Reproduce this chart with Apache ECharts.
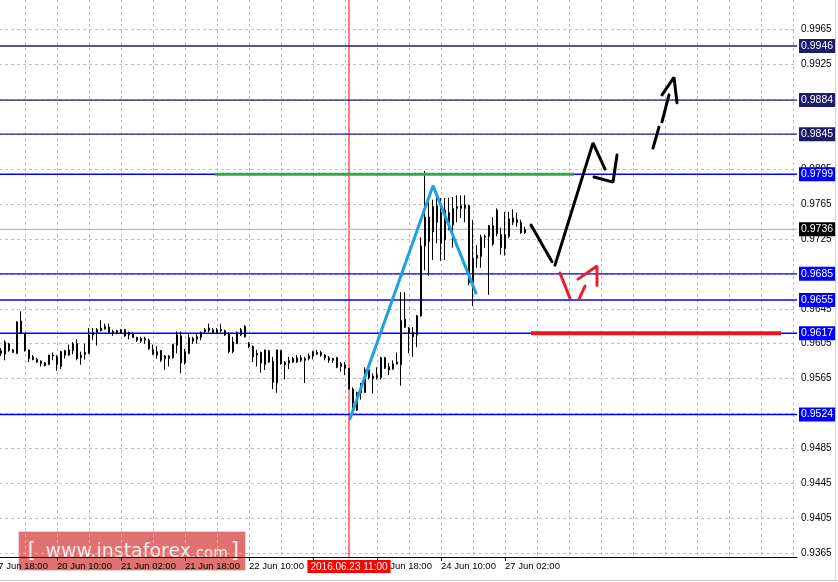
<!DOCTYPE html>
<html>
<head>
<meta charset="utf-8">
<title>H1 chart</title>
<script src="https://cdn.jsdelivr.net/npm/echarts@6/dist/echarts.min.js"></script>
<style>
html, body { margin: 0; padding: 0; background: #fff; }
#chart { width: 838px; height: 582px; }
</style>
</head>
<body>
<div id="chart"></div>
<script>
// hourly slots start at 17 Jun 2016 18:00, first candle sits in slot 2
var slotCount = 202;
var firstCandle = 2;
var lastLabelSlot = 128;

var opens = [
  0.9597, 0.9593, 0.9605, 0.9598, 0.9594, 0.9631, 0.9617, 0.9598, 0.9590, 0.9587,
  0.9585, 0.9583, 0.9581, 0.9591, 0.9590, 0.9579, 0.9597, 0.9592, 0.9597, 0.9605,
  0.9589, 0.9595, 0.9594, 0.9618, 0.9618, 0.9623, 0.9622, 0.9624, 0.9619, 0.9618,
  0.9618, 0.9621, 0.9618, 0.9616, 0.9612, 0.9608, 0.9611, 0.9609, 0.9598, 0.9592,
  0.9597, 0.9591, 0.9588, 0.9589, 0.9603, 0.9614, 0.9583, 0.9594, 0.9611, 0.9610,
  0.9612, 0.9621, 0.9620, 0.9621, 0.9618, 0.9621, 0.9620, 0.9616, 0.9596, 0.9605,
  0.9615, 0.9625, 0.9605, 0.9602, 0.9594, 0.9595, 0.9581, 0.9584, 0.9585, 0.9560,
  0.9597, 0.9584, 0.9583, 0.9588, 0.9584, 0.9589, 0.9586, 0.9588, 0.9591, 0.9595,
  0.9595, 0.9592, 0.9589, 0.9588, 0.9589, 0.9579, 0.9581, 0.9577, 0.9553, 0.9529,
  0.9549, 0.9549, 0.9575, 0.9565, 0.9566, 0.9566, 0.9589, 0.9579, 0.9576, 0.9582,
  0.9581, 0.9633, 0.9623, 0.9618, 0.9615, 0.9637, 0.9717, 0.9750, 0.9733, 0.9744,
  0.9755, 0.9724, 0.9755, 0.9741, 0.9760, 0.9763, 0.9760, 0.9763, 0.9675, 0.9706,
  0.9705, 0.9727, 0.9728, 0.9740, 0.9758, 0.9730, 0.9714, 0.9728, 0.9744, 0.9747,
  0.9744, 0.9732
];
var closes = [
  0.9594, 0.9607, 0.9597, 0.9595, 0.9630, 0.9617, 0.9597, 0.9588, 0.9587, 0.9584,
  0.9582, 0.9580, 0.9592, 0.9592, 0.9581, 0.9596, 0.9592, 0.9598, 0.9605, 0.9588,
  0.9592, 0.9593, 0.9615, 0.9615, 0.9621, 0.9620, 0.9625, 0.9618, 0.9617, 0.9620,
  0.9621, 0.9614, 0.9615, 0.9612, 0.9609, 0.9611, 0.9609, 0.9599, 0.9593, 0.9596,
  0.9586, 0.9588, 0.9591, 0.9604, 0.9615, 0.9583, 0.9596, 0.9612, 0.9608, 0.9613,
  0.9618, 0.9619, 0.9623, 0.9618, 0.9621, 0.9620, 0.9615, 0.9596, 0.9607, 0.9618,
  0.9621, 0.9613, 0.9602, 0.9590, 0.9592, 0.9583, 0.9598, 0.9597, 0.9561, 0.9598,
  0.9582, 0.9581, 0.9586, 0.9584, 0.9589, 0.9586, 0.9588, 0.9591, 0.9596, 0.9593,
  0.9592, 0.9589, 0.9586, 0.9586, 0.9578, 0.9582, 0.9577, 0.9553, 0.9537, 0.9549,
  0.9552, 0.9575, 0.9566, 0.9568, 0.9569, 0.9589, 0.9577, 0.9575, 0.9582, 0.9584,
  0.9632, 0.9624, 0.9617, 0.9613, 0.9637, 0.9717, 0.9750, 0.9722, 0.9762, 0.9763,
  0.9720, 0.9758, 0.9744, 0.9760, 0.9762, 0.9760, 0.9764, 0.9675, 0.9703, 0.9703,
  0.9727, 0.9728, 0.9740, 0.9719, 0.9731, 0.9715, 0.9730, 0.9748, 0.9749, 0.9744,
  0.9732, 0.9736
];
var lows = [
  0.9591, 0.9586, 0.9596, 0.9595, 0.9593, 0.9617, 0.9596, 0.9584, 0.9586, 0.9583,
  0.9579, 0.9579, 0.9581, 0.9586, 0.9574, 0.9576, 0.9588, 0.9591, 0.9593, 0.9586,
  0.9581, 0.9587, 0.9593, 0.9609, 0.9603, 0.9619, 0.9621, 0.9617, 0.9614, 0.9616,
  0.9617, 0.9613, 0.9610, 0.9612, 0.9607, 0.9606, 0.9605, 0.9598, 0.9592, 0.9588,
  0.9584, 0.9575, 0.9579, 0.9588, 0.9594, 0.9571, 0.9581, 0.9593, 0.9605, 0.9605,
  0.9609, 0.9617, 0.9618, 0.9617, 0.9616, 0.9618, 0.9614, 0.9594, 0.9594, 0.9605,
  0.9614, 0.9612, 0.9600, 0.9584, 0.9579, 0.9572, 0.9575, 0.9583, 0.9553, 0.9549,
  0.9581, 0.9564, 0.9576, 0.9583, 0.9583, 0.9584, 0.9560, 0.9586, 0.9587, 0.9592,
  0.9590, 0.9586, 0.9583, 0.9583, 0.9577, 0.9573, 0.9569, 0.9553, 0.9523, 0.9528,
  0.9541, 0.9549, 0.9564, 0.9548, 0.9564, 0.9564, 0.9576, 0.9569, 0.9575, 0.9581,
  0.9557, 0.9623, 0.9594, 0.9590, 0.9601, 0.9636, 0.9689, 0.9683, 0.9701, 0.9720,
  0.9700, 0.9701, 0.9735, 0.9715, 0.9744, 0.9749, 0.9744, 0.9672, 0.9648, 0.9692,
  0.9692, 0.9715, 0.9661, 0.9717, 0.9728, 0.9707, 0.9706, 0.9726, 0.9741, 0.9739,
  0.9731, 0.9731
];
var highs = [
  0.9600, 0.9609, 0.9606, 0.9599, 0.9631, 0.9642, 0.9617, 0.9598, 0.9592, 0.9589,
  0.9586, 0.9584, 0.9592, 0.9595, 0.9592, 0.9597, 0.9598, 0.9604, 0.9607, 0.9610,
  0.9596, 0.9605, 0.9623, 0.9623, 0.9623, 0.9632, 0.9628, 0.9628, 0.9621, 0.9621,
  0.9622, 0.9622, 0.9619, 0.9618, 0.9613, 0.9613, 0.9613, 0.9611, 0.9604, 0.9602,
  0.9598, 0.9592, 0.9592, 0.9605, 0.9619, 0.9619, 0.9599, 0.9617, 0.9613, 0.9617,
  0.9619, 0.9623, 0.9628, 0.9623, 0.9623, 0.9628, 0.9621, 0.9618, 0.9613, 0.9619,
  0.9623, 0.9626, 0.9607, 0.9603, 0.9598, 0.9596, 0.9598, 0.9598, 0.9590, 0.9598,
  0.9598, 0.9585, 0.9590, 0.9590, 0.9592, 0.9592, 0.9590, 0.9594, 0.9597, 0.9598,
  0.9597, 0.9593, 0.9591, 0.9589, 0.9590, 0.9584, 0.9584, 0.9577, 0.9555, 0.9550,
  0.9560, 0.9578, 0.9576, 0.9571, 0.9578, 0.9590, 0.9590, 0.9583, 0.9586, 0.9595,
  0.9664, 0.9664, 0.9624, 0.9624, 0.9638, 0.9727, 0.9803, 0.9773, 0.9770, 0.9773,
  0.9772, 0.9772, 0.9772, 0.9773, 0.9775, 0.9775, 0.9775, 0.9764, 0.9747, 0.9718,
  0.9730, 0.9730, 0.9741, 0.9750, 0.9760, 0.9738, 0.9756, 0.9756, 0.9759, 0.9755,
  0.9747, 0.9739
];

// price axis
var yMin = 0.93608, yMax = 0.99986;
var yTicks = [0.9365, 0.9405, 0.9445, 0.9485, 0.9525, 0.9565, 0.9605, 0.9645,
              0.9685, 0.9725, 0.9765, 0.9805, 0.9845, 0.9885, 0.9925, 0.9965];

// horizontal levels
var upperLevels = [0.9946, 0.9884, 0.9845];
var lowerLevels = [0.9799, 0.9685, 0.9655, 0.9617, 0.9524];
var markedSlot = 89;               // 2016.06.23 11:00
var markedText = '2016.06.23 11:00';

// drawings: [slot, price]
var resistance = [[55.5, 0.9799], [145.25, 0.9799]];
var support = [[134.5, 0.9617], [197, 0.9617]];
var waveStrokes = [[[89.25, 0.9519], [110, 0.9786], [120.75, 0.9663]]];
var forecastStrokes = [
  [[134.5, 0.9741], [139.75, 0.9699]],
  [[140.5, 0.9695], [150, 0.9835], [153, 0.9805]],
  [[150.25, 0.9796], [155, 0.9790], [156, 0.9821]],
  [[165, 0.9829], [166.5, 0.9853]],
  [[167.25, 0.9859], [169, 0.9890]],
  [[167.25, 0.9890], [170.25, 0.9910], [171, 0.9881]]
];
var altStrokes = [
  [[141.75, 0.9686], [144.25, 0.9657]],
  [[146.5, 0.9656], [148, 0.9671]],
  [[146.25, 0.9679], [151, 0.9694], [151, 0.9672]]
];

var MONTHS = ['Jan','Feb','Mar','Apr','May','Jun','Jul','Aug','Sep','Oct','Nov','Dec'];
function pad(n) { return n < 10 ? '0' + n : '' + n; }
var slots = [];
var t = Date.UTC(2016, 5, 17, 18);
while (slots.length < slotCount) {
  var d = new Date(t);
  var wd = d.getUTCDay();
  if (wd !== 0 && wd !== 6) {
    slots.push(d.getUTCDate() + ' ' + MONTHS[d.getUTCMonth()] + ' ' + pad(d.getUTCHours()) + ':00');
  }
  t += 3600000;
}

var candles = [];
for (var i = 0; i < slotCount; i++) {
  var j = i - firstCandle;
  if (j >= 0 && j < opens.length) candles.push([opens[j], closes[j], lows[j], highs[j]]);
  else candles.push('-');
}
var lastPrice = closes[closes.length - 1];

var FONT = 'Liberation Sans';

// one flat line per level, with the price box on the right
function levelSeries(v, lineColor, boxColor) {
  return {
    type: 'line', xAxisIndex: 1, yAxisIndex: 0, silent: true, z: 3,
    data: [[0, v], [slotCount - 1, v]],
    symbol: 'none',
    lineStyle: { color: lineColor, width: 1.4 },
    endLabel: {
      show: true, distance: 2,
      formatter: v.toFixed(4),
      color: '#fff', backgroundColor: boxColor,
      fontFamily: FONT, fontSize: 10.5, padding: [2, 2, 1, 2]
    }
  };
}

function strokeSeries(list, color, width) {
  return list.map(function (pts) {
    return {
      type: 'line', xAxisIndex: 1, yAxisIndex: 0,
      data: pts, symbol: 'none', silent: true, z: 5,
      lineStyle: { color: color, width: width, cap: 'round' }
    };
  });
}

var levels = [];
upperLevels.forEach(function (v) { levels.push(levelSeries(v, '#1c1c80', '#1c1c6c')); });
lowerLevels.forEach(function (v) { levels.push(levelSeries(v, '#0000ff', '#0000ff')); });
levels.push(levelSeries(lastPrice, '#bdbdbd', '#000000'));

var labelSlot = function (idx) { return idx % 16 === 0 && idx <= lastLabelSlot; };

var chart = echarts.init(document.getElementById('chart'));
var option = {
  animation: false,
  backgroundColor: '#ffffff',
  grid: { left: -7, right: 41, top: 0, bottom: 25, containLabel: false, outerBoundsMode: 'none' },
  xAxis: [{
    type: 'category',
    data: slots,
    boundaryGap: false,
    axisLine: { lineStyle: { color: '#000', width: 1 } },
    axisTick: { interval: labelSlot, length: 4, lineStyle: { color: '#000' } },
    axisLabel: {
      interval: labelSlot, align: 'left', margin: 4,
      fontFamily: FONT, fontSize: 9.5, color: '#000'
    },
    splitLine: {
      show: true,
      interval: function (idx) { return idx % 8 === 0 && idx > 0; },
      lineStyle: { color: '#c0c0c0', type: [3, 3] }
    }
  }, {
    type: 'value', min: 0, max: slotCount - 1, show: false
  }],
  yAxis: {
    type: 'value', position: 'right',
    min: yMin, max: yMax,
    axisLine: { show: true, lineStyle: { color: '#000', width: 1 } },
    axisTick: { show: true, length: 3, customValues: yTicks, lineStyle: { color: '#000' } },
    axisLabel: {
      customValues: yTicks, margin: 4,
      formatter: function (v) { return v.toFixed(4); },
      fontFamily: FONT, fontSize: 10, color: '#000'
    },
    splitLine: { show: true, lineStyle: { color: '#c0c0c0', type: [3, 3] } }
  },
  series: [{
    type: 'candlestick',
    xAxisIndex: 0, yAxisIndex: 0,
    data: candles,
    barWidth: 2,
    z: 4,
    itemStyle: {
      color: '#ffffff', color0: '#000000',
      borderColor: '#000000', borderColor0: '#000000', borderWidth: 1
    }
  }, {
    // the marked bar: red vertical line with its time box under the axis
    type: 'line', xAxisIndex: 1, yAxisIndex: 0, silent: true, z: 3,
    data: [[markedSlot, yMin], [markedSlot, yMax]], symbol: 'none',
    lineStyle: { color: '#ff0000', width: 1 },
    markLine: {
      silent: true, symbol: ['none', 'none'], animation: false,
      lineStyle: { color: 'rgba(0,0,0,0)', width: 1, type: 'solid' },
      data: [{
        xAxis: markedSlot,
        label: {
          show: true, position: 'start', distance: 3,
          formatter: markedText,
          color: '#fff', backgroundColor: '#ff0000',
          fontFamily: FONT, fontSize: 10, padding: [2, 3, 1, 3]
        }
      }]
    }
  }, {
    type: 'line', xAxisIndex: 1, data: resistance, symbol: 'none', silent: true, z: 5,
    lineStyle: { color: '#2ea84a', width: 3 }
  }, {
    type: 'line', xAxisIndex: 1, data: support, symbol: 'none', silent: true, z: 5,
    lineStyle: { color: '#e8141e', width: 4 }
  }]
    .concat(levels)
    .concat(strokeSeries(waveStrokes, '#1ea0e2', 3))
    .concat(strokeSeries(forecastStrokes, '#000000', 3))
    .concat(strokeSeries(altStrokes, '#e8202a', 3)),
  graphic: [{
    type: 'line', silent: true,
    shape: { x1: 0, y1: 580.5, x2: 838, y2: 580.5 },
    style: { stroke: '#c8c8c8', lineWidth: 1 }
  }, {
    type: 'line', silent: true,
    shape: { x1: 835.5, y1: 0, x2: 835.5, y2: 581 },
    style: { stroke: '#d8d8d8', lineWidth: 1 }
  }, {
    type: 'group', left: 18, top: 531, z: 100,
    children: [{
      type: 'rect',
      shape: { x: 0, y: 0, width: 227, height: 39 },
      style: { fill: 'rgba(214,62,62,0.74)', stroke: 'rgba(255,255,255,0.35)', lineWidth: 1 }
    }, {
      type: 'text', x: 9, y: 20,
      style: { text: '[', fontFamily: 'DejaVu Sans', fontSize: 22, fill: '#fbeeee', verticalAlign: 'middle' }
    }, {
      type: 'text', x: 27, y: 21,
      style: {
        text: '{big|www.instaforex}{sm|.com}',
        verticalAlign: 'middle',
        fill: '#fbeeee',
        rich: {
          big: { fontFamily: 'DejaVu Sans', fontSize: 19, fill: '#fbeeee' },
          sm: { fontFamily: 'DejaVu Sans', fontSize: 15, fill: '#fbeeee', padding: [3, 0, 0, 0] }
        }
      }
    }, {
      type: 'text', x: 212, y: 20,
      style: { text: ']', fontFamily: 'DejaVu Sans', fontSize: 22, fill: '#fbeeee', verticalAlign: 'middle' }
    }]
  }]
};
chart.setOption(option);
</script>
</body>
</html>
